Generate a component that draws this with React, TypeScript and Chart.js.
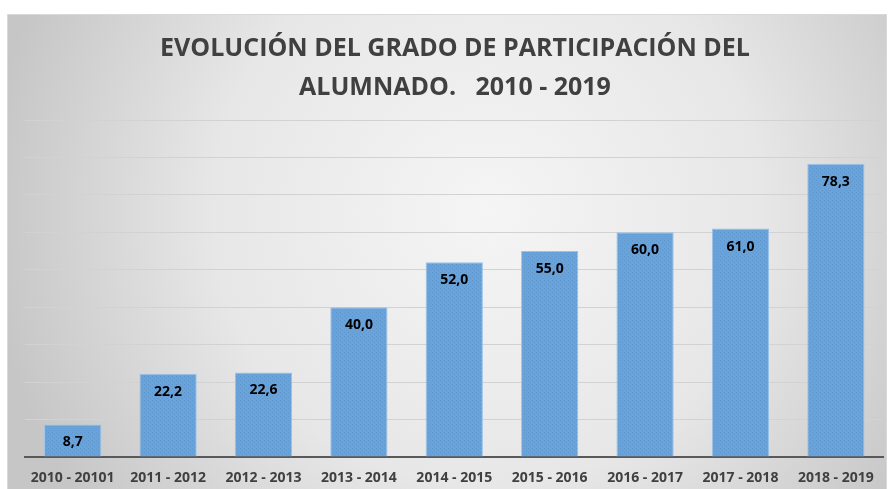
import React, { useEffect, useRef } from "react";
import { Chart, registerables } from "chart.js";

Chart.register(...registerables);

const categories = [
  "2010 - 20101",
  "2011 - 2012",
  "2012 - 2013",
  "2013 - 2014",
  "2014 - 2015",
  "2015 - 2016",
  "2016 - 2017",
  "2017 - 2018",
  "2018 - 2019",
];
const participation = [8.7, 22.2, 22.6, 40.0, 52.0, 55.0, 60.0, 61.0, 78.3];
const titleLines = ["EVOLUCIÓN DEL GRADO DE PARTICIPACIÓN DEL", "ALUMNADO.   2010 - 2019"];

const FONT = "'Open Sans', Lato, sans-serif";

function makePattern(): CanvasPattern | string {
  const c = document.createElement("canvas");
  c.width = 4;
  c.height = 4;
  const g = c.getContext("2d");
  if (!g) return "#689fd7";
  g.fillStyle = "#6aa2da";
  g.fillRect(0, 0, 4, 4);
  g.fillStyle = "#5e96ce";
  g.fillRect(0, 0, 1, 1);
  g.fillRect(2, 2, 1, 1);
  const p = g.createPattern(c, "repeat");
  return p || "#689fd7";
}

const bgPlugin = {
  id: "bgPlugin",
  beforeDraw(chart: any) {
    const { ctx, width, height } = chart;
    ctx.save();
    ctx.fillStyle = "#ffffff";
    ctx.fillRect(0, 0, width, height);
    const x0 = 7, y0 = 14, x1 = width - 1, y1 = height;
    const cx = (x0 + x1) / 2 + 40, cy = (y0 + y1) / 2 - 40;
    const grad = ctx.createRadialGradient(cx, cy, 0, cx, cy, 500);
    grad.addColorStop(0, "#f5f5f5");
    grad.addColorStop(0.55, "#e7e7e7");
    grad.addColorStop(1, "#c6c6c6");
    ctx.fillStyle = grad;
    ctx.fillRect(x0, y0, x1 - x0, y1 - y0);
    ctx.strokeStyle = "#d9d9d9";
    ctx.lineWidth = 1;
    ctx.strokeRect(x0 + 0.5, y0 + 0.5, x1 - x0 - 1, y1 - y0);
    ctx.restore();
  },
};

const labelPlugin = {
  id: "labelPlugin",
  afterDatasetsDraw(chart: any) {
    const { ctx } = chart;
    const meta = chart.getDatasetMeta(0);
    ctx.save();
    ctx.fillStyle = "#000000";
    ctx.font = `bold 14px ${FONT}`;
    ctx.textAlign = "center";
    ctx.textBaseline = "middle";
    meta.data.forEach((bar: any, i: number) => {
      const v = participation[i];
      ctx.fillText(v.toFixed(1).replace(".", ","), bar.x, bar.y + 18);
    });
    ctx.restore();
  },
  afterDraw(chart: any) {
    const { ctx } = chart;
    ctx.save();
    ctx.fillStyle = "#404040";
    ctx.font = `bold 25px ${FONT}`;
    ctx.textAlign = "center";
    ctx.textBaseline = "middle";
    ctx.fillText(titleLines[0], 455, 49);
    ctx.fillText(titleLines[1], 455, 88);
    ctx.restore();
  },
};

export default function App() {
  const ref = useRef<HTMLCanvasElement | null>(null);
  useEffect(() => {
    if (!ref.current) return;
    const chart = new Chart(ref.current, {
      type: "bar",
      data: {
        labels: categories,
        datasets: [
          {
            data: participation,
            backgroundColor: makePattern() as any,
            borderColor: "#9cc2e8",
            borderWidth: 1,
            barPercentage: 0.6,
            categoryPercentage: 1,
          },
        ],
      },
      options: {
        animation: false,
        responsive: false,
        maintainAspectRatio: false,
        layout: { padding: { left: 25, right: 4, top: 120, bottom: -10 } },
        plugins: {
          legend: { display: false },
          title: { display: false },
          tooltip: { enabled: false },
        },
        scales: {
          x: {
            grid: { display: false, drawTicks: false },
            border: { display: true, color: "#595959", width: 2 },
            ticks: {
              color: "#404040",
              font: { family: FONT, size: 14, weight: "bold", lineHeight: 1 },
              padding: 14,
              maxRotation: 0,
              autoSkip: false,
            },
          },
          y: {
            min: 0,
            max: 90,
            ticks: { display: false, stepSize: 10 },
            grid: { color: "#d2d2d2", lineWidth: 1, drawTicks: false },
            border: { display: false },
          },
        },
      },
      plugins: [bgPlugin, labelPlugin],
    });
    return () => chart.destroy();
  }, []);
  return (
    <div style={{ position: "fixed", left: 0, top: 0, width: 888, height: 489 }}>
      <canvas ref={ref} width={888} height={489} style={{ display: "block" }} />
    </div>
  );
}
